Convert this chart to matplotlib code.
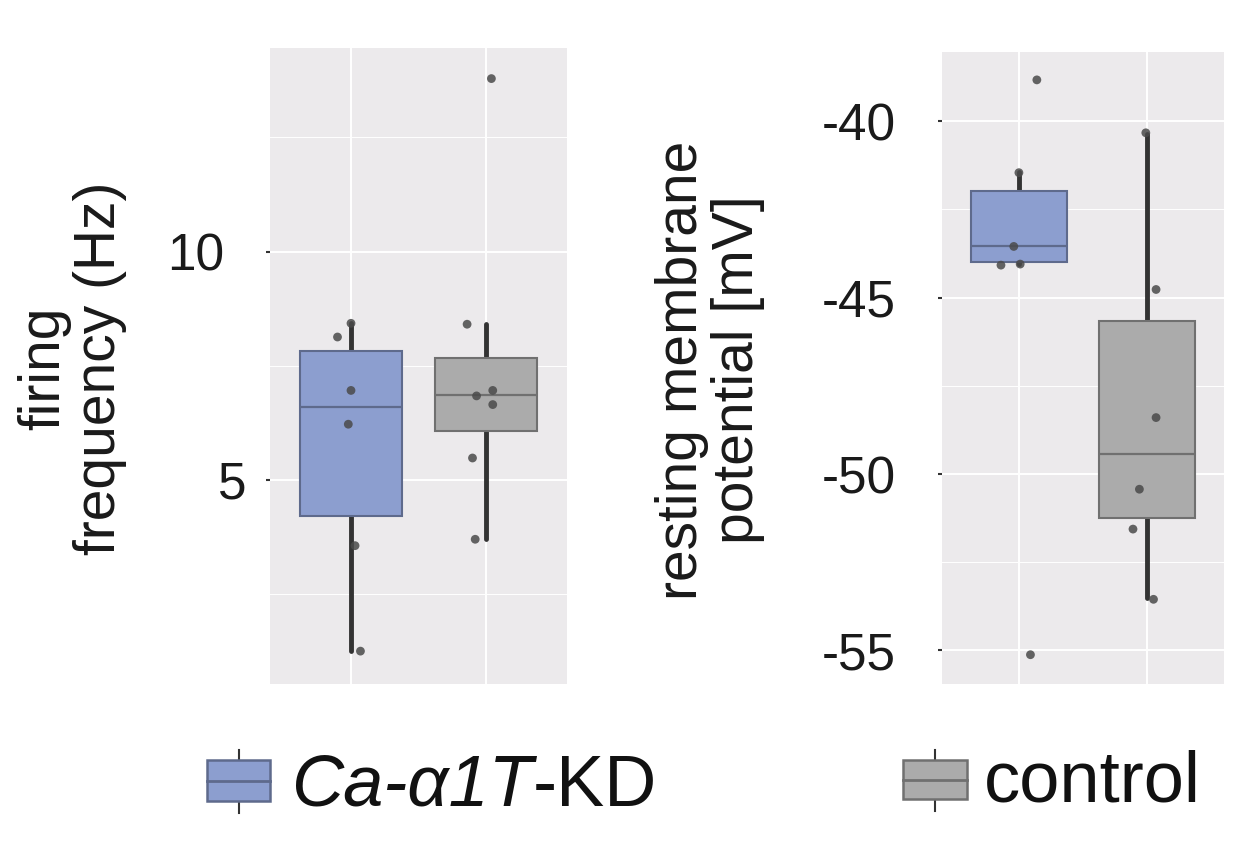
import matplotlib
matplotlib.use("Agg")
import matplotlib.pyplot as plt
from matplotlib.patches import Rectangle
from matplotlib.lines import Line2D
from matplotlib.transforms import ScaledTranslation

plt.rcParams['font.family'] = ['Liberation Sans', 'DejaVu Sans']

# ---------------- data ----------------
groups = ["Ca-α1T-KD", "control"]

# firing frequency (Hz): box statistics per group
ff_q1 = [4.21, 6.07]
ff_med = [6.59, 6.85]
ff_q3 = [7.83, 7.68]
ff_lo = [1.25, 3.70]
ff_hi = [8.43, 8.41]
# individual cells
ff_kd = [8.43, 8.13, 6.96, 6.22, 3.56, 1.25]
ff_kd_jit = [0.0, -0.10, 0.0, -0.02, 0.03, 0.07]
ff_ctrl = [13.79, 8.41, 6.96, 6.84, 6.65, 5.48, 3.70]
ff_ctrl_jit = [0.04, -0.14, 0.05, -0.07, 0.05, -0.10, -0.08]

# resting membrane potential (mV)
rmp_q1 = [-43.99, -51.25]
rmp_med = [-43.55, -49.44]
rmp_q3 = [-41.98, -45.67]
rmp_lo = [-44.05, -53.52]
rmp_hi = [-41.44, -40.36]
rmp_kd = [-38.83, -41.46, -43.55, -44.08, -44.05, -55.12]
rmp_kd_jit = [0.14, 0.0, -0.04, -0.14, 0.01, 0.09]
rmp_ctrl = [-40.33, -44.77, -48.40, -50.43, -51.56, -53.55]
rmp_ctrl_jit = [-0.01, 0.07, 0.07, -0.06, -0.11, 0.05]

ff_ticks = [5, 10]
ff_minor = [2.5, 7.5, 12.5]
rmp_ticks = [-55, -50, -45, -40]
rmp_minor = [-52.5, -47.5, -42.5]

# ---------------- style ----------------
BG = "#ECEAEC"
FILLS = ["#8C9ECF", "#ABABAB"]
EDGES = ["#5E6A8C", "#707070"]
WHISK = "#333333"
PT = "#4A4A4A"

fig = plt.figure(figsize=(12.4, 8.6), dpi=100)
W, H = 1240, 860


def frac(x0, y0, x1, y1):
    return [x0 / W, 1 - y1 / H, (x1 - x0) / W, (y1 - y0) / H]


def panel(rect, q1, med, q3, lo, hi, pts, jits, ticks, minor, ylim, pad):
    ax = fig.add_axes(rect)
    ax.set_facecolor(BG)
    for s in ax.spines.values():
        s.set_visible(False)
    stats = []
    for i in range(2):
        stats.append(dict(q1=q1[i], med=med[i], q3=q3[i], whislo=lo[i],
                          whishi=hi[i], fliers=[]))
    positions = [1, 2]
    for i in range(2):
        bp = ax.bxp([stats[i]], positions=[positions[i]], widths=0.75,
                    patch_artist=True, showcaps=False, showfliers=False,
                    boxprops=dict(facecolor=FILLS[i], edgecolor=EDGES[i], linewidth=1.5),
                    medianprops=dict(color=EDGES[i], linewidth=1.6),
                    whiskerprops=dict(color=WHISK, linewidth=3.5, solid_capstyle='round'),
                    zorder=3)
        for w in bp['whiskers']:
            w.set_zorder(2)
    for i in range(2):
        xs = [positions[i] + j for j in jits[i]]
        ax.scatter(xs, pts[i], s=40, color=PT, alpha=0.85, edgecolors='none', zorder=5)
    ax.set_xlim(0.4, 2.6)
    ax.set_ylim(*ylim)
    ax.set_xticks(positions)
    ax.set_xticklabels([])
    ax.tick_params(axis='x', length=0)
    ax.set_yticks(ticks)
    ax.set_yticks(minor, minor=True)
    ax.set_yticklabels([str(t) for t in ticks])
    ax.tick_params(axis='y', which='major', length=3, width=1.5, color="#333333",
                   labelsize=37, pad=pad, labelcolor="#1a1a1a")
    ax.tick_params(axis='y', which='minor', length=0)
    ax.grid(True, which='major', color='white', linewidth=1.4, zorder=0)
    ax.grid(True, which='minor', axis='y', color='white', linewidth=0.7, zorder=0)
    ax.set_axisbelow(True)
    return ax


ax1 = panel(frac(270, 48, 567, 684), ff_q1, ff_med, ff_q3, ff_lo, ff_hi,
            [ff_kd, ff_ctrl], [ff_kd_jit, ff_ctrl_jit], ff_ticks, ff_minor,
            (0.53, 14.46), 14)
# the "10" label sits further left in the reference
for lab in ax1.get_yticklabels():
    if lab.get_text() == "10":
        lab.set_transform(lab.get_transform() + ScaledTranslation(-22 / 100, 0, fig.dpi_scale_trans))

ax2 = panel(frac(942, 52, 1224, 684), rmp_q1, rmp_med, rmp_q3, rmp_lo, rmp_hi,
            [rmp_kd, rmp_ctrl], [rmp_kd_jit, rmp_ctrl_jit], rmp_ticks, rmp_minor,
            (-55.95, -38.04), 30)

# y labels
fig.text(72 / W, 1 - 368 / H, "firing\nfrequency (Hz)", rotation=90, ha='center',
         va='center', multialignment='center', fontsize=41, color="#1a1a1a", linespacing=1.05)
fig.text(710 / W, 1 - 370 / H, "resting membrane\npotential [mV]", rotation=90, ha='center',
         va='center', multialignment='center', fontsize=41, color="#1a1a1a", linespacing=1.05)

# legend
lax = fig.add_axes([0, 0, 1, 1])
lax.set_xlim(0, W)
lax.set_ylim(H, 0)
lax.axis('off')


def key(x0, x1, y0, y1, i):
    xc = (x0 + x1) / 2
    lax.add_line(Line2D([xc, xc], [y0 - 10, y1 + 12], color="#333333", linewidth=1.5, zorder=1))
    lax.add_patch(Rectangle((x0, y0), x1 - x0, y1 - y0, facecolor=FILLS[i],
                            edgecolor=EDGES[i], linewidth=1.8, zorder=2))
    lax.add_line(Line2D([x0, x1], [(y0 + y1) / 2] * 2, color=EDGES[i], linewidth=2, zorder=3))


key(207, 270, 760, 801, 0)
key(903, 967, 760, 799, 1)
t1 = lax.text(291, 806, "Ca-α1T", fontsize=52, style='italic', ha='left', va='baseline',
              color="#111111")
lax.annotate("-KD", xy=(1, 0), xycoords=t1, ha='left', va='bottom', fontsize=52,
             color="#111111")
lax.text(984, 802, "control", fontsize=52, ha='left', va='baseline', color="#111111")

fig.savefig("out.png", dpi=100)
